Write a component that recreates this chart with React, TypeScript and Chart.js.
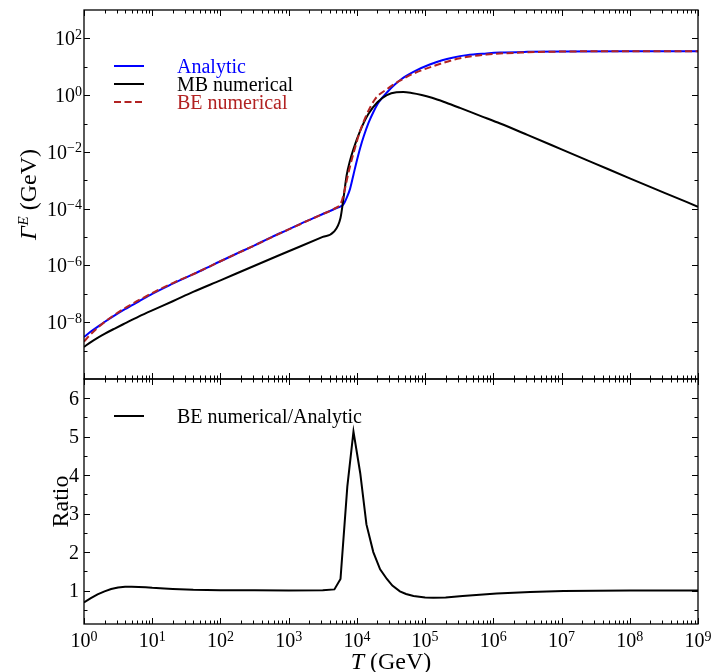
import React, { useEffect, useRef } from "react";
import { Chart, registerables } from "chart.js";

Chart.register(...registerables);

// ---------------- data ----------------
const tAnalytic = [1, 1.26, 1.58, 2.0, 2.82, 3.98, 6.31, 10, 17.8, 31.6, 56.2, 100, 178, 316, 562, 1000, 1780, 3160, 5250, 6310, 7080, 7940, 8910, 10000, 11200, 12600, 14800, 17400, 20900, 28200, 34700, 44700, 53700, 70800, 117000, 178000, 251000, 407000, 794000, 1.26e6, 3.16e6, 1e7, 1e8, 1e9];
const gammaAnalytic = [3.0e-9, 4.7e-9, 6.9e-9, 1.02e-8, 1.74e-8, 2.88e-8, 5.37e-8, 1.0e-7, 2.0e-7, 3.8e-7, 7.2e-7, 1.41e-6, 2.7e-6, 5.1e-6, 1.0e-5, 1.86e-5, 3.55e-5, 6.5e-5, 1.1e-4, 1.38e-4, 2.4e-4, 5.0e-4, 1.58e-3, 5.0e-3, 1.41e-2, 3.55e-2, 0.105, 0.25, 0.56, 1.32, 2.19, 3.63, 4.9, 7.08, 12.0, 17.0, 20.9, 25.7, 29.5, 31.6, 33.5, 34.7, 35.5, 35.5];

const tMB = [1, 1.26, 1.58, 2.0, 2.82, 3.98, 6.31, 10, 20, 39.8, 100, 316, 1000, 3160, 4570, 5750, 6310, 7080, 7940, 8910, 11200, 14800, 20000, 27500, 38000, 47900, 63100, 89100, 126000, 200000, 324000, 631000, 1.26e6, 3.16e6, 1e7, 3.16e7, 1e8, 3.16e8, 1e9];
const gammaMB = [1.35e-9, 2.0e-9, 2.82e-9, 3.9e-9, 6.0e-9, 9.1e-9, 1.58e-8, 2.63e-8, 5.5e-8, 1.17e-7, 3.0e-7, 9.8e-7, 3.16e-6, 1.02e-5, 1.51e-5, 4.7e-5, 2.0e-4, 1.51e-3, 5.0e-3, 1.26e-2, 5.6e-2, 0.22, 0.56, 1.0, 1.26, 1.29, 1.2, 1.02, 0.81, 0.55, 0.355, 0.19, 0.1, 0.0398, 0.0123, 3.8e-3, 1.17e-3, 3.7e-4, 1.17e-4];

const tBE = [1, 1.26, 1.7, 2.69, 4.27, 6.61, 11.5, 20.4, 39.8, 100, 316, 1000, 3160, 4680, 5890, 6610, 7410, 8910, 11200, 13800, 18600, 27500, 42700, 67600, 132000, 324000, 794000, 2.51e6, 1e7, 1e8, 1e9];
const gammaBE = [2.1e-9, 3.8e-9, 7.4e-9, 1.7e-8, 3.47e-8, 6.3e-8, 1.26e-7, 2.45e-7, 4.9e-7, 1.41e-6, 5.1e-6, 1.86e-5, 6.5e-5, 1.0e-4, 1.66e-4, 4.5e-4, 1.58e-3, 8.9e-3, 5.6e-2, 0.2, 0.74, 1.62, 3.24, 5.75, 10.5, 20.0, 26.9, 31.6, 34.3, 35.5, 35.5];

const tRatio = [1, 1.26, 1.58, 2.0, 2.5, 3.16, 4.0, 5.0, 6.3, 8.0, 10, 15, 20, 40, 100, 316, 1000, 3160, 4680, 5750, 7240, 8910, 11200, 13800, 17400, 21900, 27500, 33100, 42700, 52500, 67600, 100000, 132000, 200000, 355000, 1.12e6, 3.47e6, 1.07e7, 3.16e7, 1e8, 1e9];
const ratioValues = [0.69, 0.8, 0.9, 0.98, 1.04, 1.08, 1.1, 1.1, 1.095, 1.085, 1.07, 1.05, 1.04, 1.02, 1.01, 1.005, 1.0, 1.005, 1.03, 1.3, 3.7, 5.13, 4.05, 2.72, 2.0, 1.55, 1.3, 1.13, 0.98, 0.91, 0.86, 0.82, 0.81, 0.82, 0.86, 0.92, 0.96, 0.985, 0.995, 1.0, 1.0];

const seriesLabels = ["Analytic", "MB numerical", "BE numerical"];
const seriesColors = ["#0000ff", "#000000", "#b22222"];
const ratioLabel = "BE numerical/Analytic";

// axis ticks
const xTickExponents = [0, 1, 2, 3, 4, 5, 6, 7, 8, 9];
const xMinorMultipliers = [2, 3, 4, 5, 6, 7, 8, 9];
const gammaLabelExponents = [-8, -6, -4, -2, 0, 2];
const gammaMinorExponents = [-9, -7, -5, -3, -1, 1];
const ratioTickValues = [1, 2, 3, 4, 5, 6];
const ratioMinorValues = [0.5, 1.5, 2.5, 3.5, 4.5, 5.5];

const SERIF = "'Liberation Serif', 'Times New Roman', Times, serif";
const DASH = [7, 3.5];

function seg(ctx: CanvasRenderingContext2D, x1: number, y1: number, x2: number, y2: number) {
  ctx.beginPath();
  ctx.moveTo(x1, y1);
  ctx.lineTo(x2, y2);
  ctx.stroke();
}

function drawPower(ctx: CanvasRenderingContext2D, exp: number, x: number, y: number, align: "right" | "center") {
  const base = "10";
  const e = exp < 0 ? "\u2212" + Math.abs(exp) : String(exp);
  ctx.font = `20px ${SERIF}`;
  const wb = ctx.measureText(base).width;
  ctx.font = `14px ${SERIF}`;
  const we = ctx.measureText(e).width;
  const total = wb + we;
  const x0 = align === "right" ? x - total : x - total / 2;
  ctx.textAlign = "left";
  ctx.textBaseline = "alphabetic";
  ctx.fillStyle = "#000";
  ctx.font = `20px ${SERIF}`;
  ctx.fillText(base, x0, y);
  ctx.font = `14px ${SERIF}`;
  ctx.fillText(e, x0 + wb, y - 6.5);
}

function drawFrameAndXTicks(chart: any) {
  const { ctx, chartArea: a } = chart;
  const xs = chart.scales.x;
  ctx.save();
  ctx.strokeStyle = "#000";
  ctx.lineWidth = 1;
  ctx.setLineDash([]);
  for (const e of xTickExponents) {
    const px = Math.round(xs.getPixelForValue(Math.pow(10, e))) + 0.5;
    seg(ctx, px, a.bottom, px, a.bottom - 6);
    seg(ctx, px, a.top, px, a.top + 6);
    if (e < xTickExponents[xTickExponents.length - 1]) {
      for (const m of xMinorMultipliers) {
        const p = Math.round(xs.getPixelForValue(m * Math.pow(10, e))) + 0.5;
        seg(ctx, p, a.bottom, p, a.bottom - 3.5);
        seg(ctx, p, a.top, p, a.top + 3.5);
      }
    }
  }
  ctx.lineWidth = 1.3;
  ctx.strokeRect(a.left, a.top, a.right - a.left, a.bottom - a.top);
  ctx.restore();
}

function drawYTicks(chart: any, majors: number[], minors: number[]) {
  const { ctx, chartArea: a } = chart;
  const ys = chart.scales.y;
  ctx.save();
  ctx.strokeStyle = "#000";
  ctx.lineWidth = 1;
  ctx.setLineDash([]);
  for (const v of majors) {
    const py = Math.round(ys.getPixelForValue(v)) + 0.5;
    seg(ctx, a.left, py, a.left + 6, py);
    seg(ctx, a.right, py, a.right - 6, py);
  }
  for (const v of minors) {
    const py = Math.round(ys.getPixelForValue(v)) + 0.5;
    seg(ctx, a.left, py, a.left + 3.5, py);
    seg(ctx, a.right, py, a.right - 3.5, py);
  }
  ctx.restore();
}

function drawLegend(ctx: CanvasRenderingContext2D, labels: string[], colors: string[], dashed: boolean[], rowsY: number[], textColored: boolean) {
  ctx.save();
  labels.forEach((lab, i) => {
    const y = rowsY[i];
    ctx.strokeStyle = colors[i];
    ctx.lineWidth = 2;
    ctx.setLineDash(dashed[i] ? DASH : []);
    seg(ctx, 114, y, 144, y);
    ctx.setLineDash([]);
    ctx.font = `20px ${SERIF}`;
    ctx.textAlign = "left";
    ctx.textBaseline = "alphabetic";
    ctx.fillStyle = textColored ? colors[i] : "#000";
    ctx.fillText(lab, 177, y + 6.5);
  });
  ctx.restore();
}

const topDecor = {
  id: "topDecor",
  afterDraw(chart: any) {
    const { ctx } = chart;
    drawFrameAndXTicks(chart);
    drawYTicks(
      chart,
      gammaLabelExponents.map((e) => Math.pow(10, e)),
      gammaMinorExponents.map((e) => Math.pow(10, e))
    );
    const ys = chart.scales.y;
    for (const e of gammaLabelExponents) {
      const py = ys.getPixelForValue(Math.pow(10, e));
      drawPower(ctx, e, 82, py + 7, "right");
    }
    // y title: Γ^E (GeV)
    ctx.save();
    ctx.translate(36, (chart.chartArea.top + chart.chartArea.bottom) / 2);
    ctx.rotate(-Math.PI / 2);
    ctx.fillStyle = "#000";
    ctx.textBaseline = "alphabetic";
    ctx.textAlign = "left";
    const fG = `italic 24px ${SERIF}`;
    const fE = `italic 15px ${SERIF}`;
    const fN = `24px ${SERIF}`;
    ctx.font = fG;
    const wG = ctx.measureText("\u0393").width;
    ctx.font = fE;
    const wE = ctx.measureText("E").width;
    ctx.font = fN;
    const wR = ctx.measureText(" (GeV)").width;
    let x = -(wG + wE + 1 + wR) / 2;
    ctx.font = fG;
    ctx.fillText("\u0393", x, 0);
    x += wG + 1;
    ctx.font = fE;
    ctx.fillText("E", x, -8);
    x += wE;
    ctx.font = fN;
    ctx.fillText(" (GeV)", x, 0);
    ctx.restore();
    drawLegend(ctx, seriesLabels, seriesColors, [false, false, true], [66, 84, 102], true);
  },
};

const bottomDecor = {
  id: "bottomDecor",
  afterDraw(chart: any) {
    const { ctx, chartArea: a } = chart;
    drawFrameAndXTicks(chart);
    drawYTicks(chart, ratioTickValues, ratioMinorValues);
    const ys = chart.scales.y;
    const xs = chart.scales.x;
    ctx.save();
    ctx.fillStyle = "#000";
    ctx.font = `20px ${SERIF}`;
    ctx.textAlign = "right";
    ctx.textBaseline = "alphabetic";
    for (const v of ratioTickValues) {
      const py = ys.getPixelForValue(v);
      ctx.fillText(String(v), 79, py + 6.5);
    }
    ctx.restore();
    for (const e of xTickExponents) {
      const px = xs.getPixelForValue(Math.pow(10, e));
      drawPower(ctx, e, px, a.bottom + 23, "center");
    }
    // Ratio title
    ctx.save();
    ctx.translate(68, (a.top + a.bottom) / 2);
    ctx.rotate(-Math.PI / 2);
    ctx.fillStyle = "#000";
    ctx.font = `24px ${SERIF}`;
    ctx.textAlign = "center";
    ctx.textBaseline = "alphabetic";
    ctx.fillText("Ratio", 0, 0);
    ctx.restore();
    // x title: T (GeV)
    ctx.save();
    ctx.fillStyle = "#000";
    ctx.textAlign = "left";
    ctx.textBaseline = "alphabetic";
    ctx.font = `italic 24px ${SERIF}`;
    const wT = ctx.measureText("T").width;
    ctx.font = `24px ${SERIF}`;
    const wR = ctx.measureText(" (GeV)").width;
    let x = (a.left + a.right) / 2 - (wT + wR) / 2;
    const yb = a.bottom + 45;
    ctx.font = `italic 24px ${SERIF}`;
    ctx.fillText("T", x, yb);
    x += wT;
    ctx.font = `24px ${SERIF}`;
    ctx.fillText(" (GeV)", x, yb);
    ctx.restore();
    drawLegend(ctx, [ratioLabel], ["#000000"], [false], [a.top + 37], false);
  },
};

function pts(xs: number[], ys: number[]) {
  return xs.map((x, i) => ({ x, y: ys[i] }));
}

function baseOptions(padding: any) {
  return {
    responsive: false,
    maintainAspectRatio: false,
    animation: false as const,
    devicePixelRatio: 1,
    events: [] as any[],
    layout: { padding },
    plugins: { legend: { display: false }, tooltip: { enabled: false }, title: { display: false } },
    elements: { point: { radius: 0 } },
  };
}

export default function App() {
  const topRef = useRef<HTMLCanvasElement>(null);
  const botRef = useRef<HTMLCanvasElement>(null);

  useEffect(() => {
    const topChart = new Chart(topRef.current!, {
      type: "line",
      data: {
        datasets: [
          {
            label: seriesLabels[2],
            data: pts(tBE, gammaBE),
            borderColor: seriesColors[2],
            borderWidth: 2,
            borderDash: DASH,
            cubicInterpolationMode: "monotone",
            pointRadius: 0,
            fill: false,
            order: 0,
          },
          {
            label: seriesLabels[1],
            data: pts(tMB, gammaMB),
            borderColor: seriesColors[1],
            borderWidth: 2,
            cubicInterpolationMode: "monotone",
            pointRadius: 0,
            fill: false,
            order: 1,
          },
          {
            label: seriesLabels[0],
            data: pts(tAnalytic, gammaAnalytic),
            borderColor: seriesColors[0],
            borderWidth: 2,
            cubicInterpolationMode: "monotone",
            pointRadius: 0,
            fill: false,
            order: 2,
          },
        ],
      },
      options: {
        ...baseOptions({ left: 84, right: 14, top: 10, bottom: 11 }),
        scales: {
          x: { type: "logarithmic", min: 1, max: 1e9, display: false },
          y: { type: "logarithmic", min: 1e-10, max: 1e3, display: false },
        },
      } as any,
      plugins: [topDecor],
    });

    const botChart = new Chart(botRef.current!, {
      type: "line",
      data: {
        datasets: [
          {
            label: ratioLabel,
            data: pts(tRatio, ratioValues),
            borderColor: "#000000",
            borderWidth: 2,
            tension: 0,
            pointRadius: 0,
            fill: false,
          },
        ],
      },
      options: {
        ...baseOptions({ left: 84, right: 14, top: 9, bottom: 48 }),
        scales: {
          x: { type: "logarithmic", min: 1, max: 1e9, display: false },
          y: { type: "linear", min: 0.13, max: 6.5, display: false },
        },
      } as any,
      plugins: [bottomDecor],
    });

    return () => {
      topChart.destroy();
      botChart.destroy();
    };
  }, []);

  return (
    <div style={{ position: "absolute", left: 0, top: 0, width: 712, height: 672, background: "#ffffff", overflow: "hidden" }}>
      <canvas ref={topRef} width={712} height={390} style={{ position: "absolute", left: 0, top: 0 }} />
      <canvas ref={botRef} width={712} height={302} style={{ position: "absolute", left: 0, top: 370 }} />
    </div>
  );
}
